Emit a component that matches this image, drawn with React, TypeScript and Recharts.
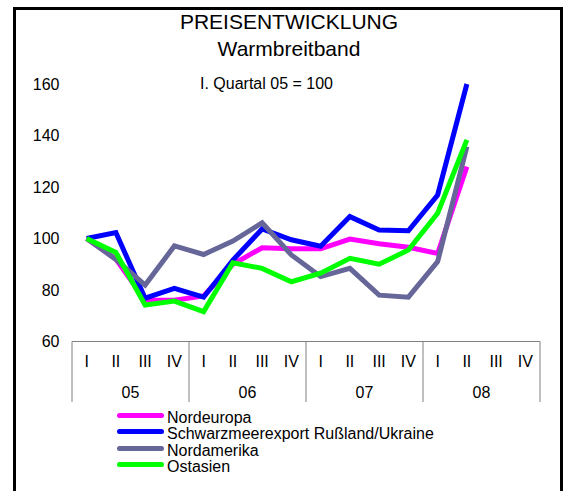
import { LineChart, Line, XAxis, YAxis } from 'recharts';

const YEARS = ['05', '06', '07', '08'];
const QUARTERS = ['I', 'II', 'III', 'IV'];
const Y_TICKS = [60, 80, 100, 120, 140, 160];

const NORDEUROPA = [100, 92, 76, 76, 77.7, 90, 96.4, 96, 96, 99.8, 98, 96.6, 94.2, 127.9, null, null];
const SCHWARZMEER = [100, 102.3, 76.8, 80.6, 77.2, 91.6, 103.7, 99.5, 97, 108.5, 103.3, 103, 116.9, 160, null, null];
const NORDAMERIKA = [100, 91.9, 81.9, 97.1, 93.8, 99, 106.1, 93.6, 85.2, 88.4, 78, 77.2, 91, 135.7, null, null];
const OSTASIEN = [100, 94.6, 74.2, 75.7, 71.6, 90.6, 88.4, 83.2, 86.5, 92.3, 90, 95.5, 109.8, 138.3, null, null];

const SERIES = [
  { key: 'nord', name: 'Nordeuropa', color: '#ff00ff', values: NORDEUROPA },
  { key: 'schw', name: 'Schwarzmeerexport Rußland/Ukraine', color: '#0000ff', values: SCHWARZMEER },
  { key: 'nam', name: 'Nordamerika', color: '#666699', values: NORDAMERIKA },
  { key: 'ost', name: 'Ostasien', color: '#00ff00', values: OSTASIEN },
];

const data = YEARS.flatMap((year, yi) =>
  QUARTERS.map((q, qi) => {
    const i = yi * 4 + qi;
    const row: any = { q, year };
    SERIES.forEach((s) => { row[s.key] = s.values[i]; });
    return row;
  })
);

const FONT = '"Liberation Sans", Arial, sans-serif';
const W = 563;
const H = 491;
const PLOT_LEFT = 72;
const PLOT_RIGHT = 540;
const BAND = (PLOT_RIGHT - PLOT_LEFT) / data.length;

const CategoryTick = ({ x, y, index, payload }: any) => {
  const row = data[index];
  const first = index % 4 === 0;
  return (
    <g>
      <text x={x} y={y + 25} textAnchor="middle" fontSize={16} fontFamily={FONT} fill="#000">
        {payload.value}
      </text>
      {first && (
        <>
          <line x1={x - BAND / 2} y1={y} x2={x - BAND / 2} y2={y + 60.5} stroke="#808080" strokeWidth={1} />
          <text x={x + BAND * 1.5} y={y + 56} textAnchor="middle" fontSize={16} fontFamily={FONT} fill="#000">
            {row.year}
          </text>
        </>
      )}
      {index === data.length - 1 && (
        <line x1={x + BAND / 2} y1={y} x2={x + BAND / 2} y2={y + 60.5} stroke="#808080" strokeWidth={1} />
      )}
    </g>
  );
};

export default function App() {
  return (
    <div style={{ position: 'absolute', left: 0, top: 0, width: W, height: H, overflow: 'hidden', background: '#fff', fontFamily: FONT }}>
      <div style={{ position: 'absolute', left: 13, top: 7, width: 550, height: 520, border: '3px solid #000', boxSizing: 'border-box' }} />
      <div style={{ position: 'absolute', left: 0, width: 578, top: 9, textAlign: 'center', fontSize: 21, lineHeight: '26.6px', color: '#000' }}>
        PREISENTWICKLUNG
        <br />
        Warmbreitband
      </div>
      <div style={{ position: 'absolute', left: 200, top: 74, fontSize: 16, lineHeight: '20px', color: '#000' }}>
        I. Quartal 05 = 100
      </div>
      <LineChart width={W} height={H} data={data} margin={{ top: 84, right: W - PLOT_RIGHT, bottom: 89.5, left: 0 }}>
        <XAxis
          dataKey="q"
          padding={{ left: BAND / 2, right: BAND / 2 }}
          interval={0}
          height={60}
          tickSize={0}
          tickMargin={0}
          axisLine={{ stroke: '#808080', strokeWidth: 1 }}
          tickLine={false}
          tick={<CategoryTick />}
        />
        <YAxis
          domain={[60, 160]}
          ticks={Y_TICKS}
          width={PLOT_LEFT}
          axisLine={false}
          tickLine={false}
          tickSize={0}
          tickMargin={12.5}
          tick={{ fontSize: 16, fontFamily: FONT, fill: '#000' }}
        />
        {SERIES.map((s) => (
          <Line
            key={s.key}
            type="linear"
            dataKey={s.key}
            name={s.name}
            stroke={s.color}
            strokeWidth={5}
            dot={false}
            activeDot={false}
            isAnimationActive={false}
          />
        ))}
      </LineChart>
      <div style={{ position: 'absolute', left: 117, top: 409.7 }}>
        {SERIES.map((s) => (
          <div key={s.key} style={{ display: 'flex', alignItems: 'flex-start', height: 16.6, fontSize: 16, lineHeight: '16.6px', color: '#000', whiteSpace: 'nowrap' }}>
            <div style={{ width: 47, height: 5, borderRadius: 3, background: s.color, marginTop: 3, marginRight: 3 }} />
            <span>{s.name}</span>
          </div>
        ))}
      </div>
    </div>
  );
}
